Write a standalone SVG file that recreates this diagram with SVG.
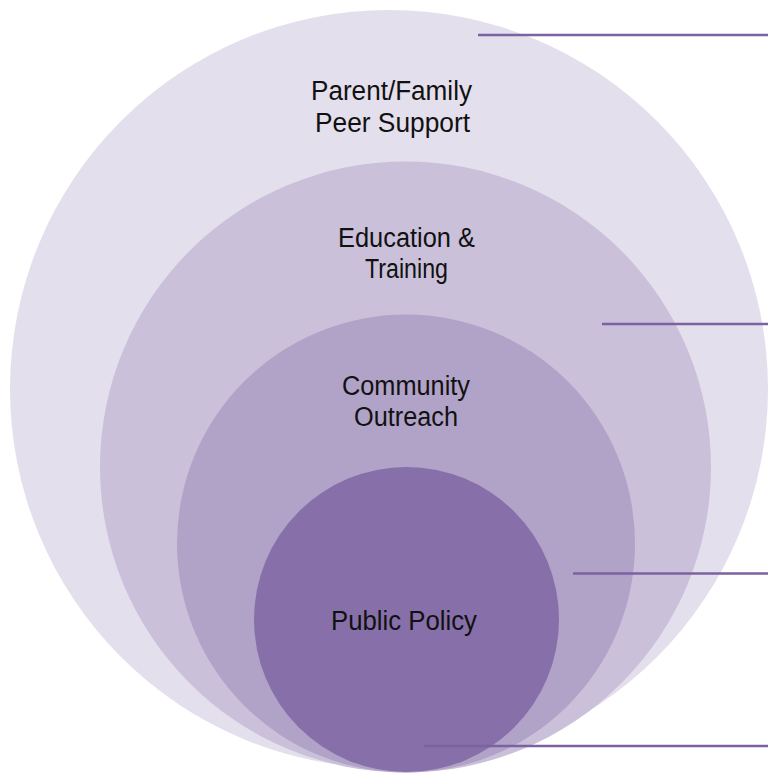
<svg xmlns="http://www.w3.org/2000/svg" width="768" height="774" viewBox="0 0 768 774">
<style>
.lbl{font-family:"Liberation Sans",Arial,sans-serif;font-size:27px;fill:#111;text-anchor:middle}
.ln{stroke:#7D62A2;stroke-width:2.5;fill:none}
</style>
<rect width="768" height="774" fill="#fff"/>
<g id="ring-parent">
<circle cx="389" cy="389" r="379" fill="#E4DFEC"/>
</g>
<g id="ring-education">
<circle cx="405.5" cy="467" r="305.5" fill="#CAC0DA"/>
</g>
<g id="ring-community">
<circle cx="406" cy="543.5" r="229" fill="#B1A2C8"/>
</g>
<g id="ring-policy">
<circle cx="406.5" cy="619.5" r="152.5" fill="#876FA9"/>
</g>
<g id="connectors">
<line class="ln" x1="478" y1="35" x2="768" y2="35"/>
<line class="ln" x1="602" y1="324" x2="768" y2="324"/>
<line class="ln" x1="573" y1="573.5" x2="768" y2="573.5"/>
<line class="ln" x1="424" y1="746" x2="768" y2="746"/>
</g>
<g id="labels">
<text class="lbl" x="391.5" y="100" textLength="161" lengthAdjust="spacingAndGlyphs">Parent/Family</text>
<text class="lbl" x="392.5" y="131.5" textLength="155" lengthAdjust="spacingAndGlyphs">Peer Support</text>
<text class="lbl" x="406.5" y="247" textLength="137" lengthAdjust="spacingAndGlyphs">Education &amp;</text>
<text class="lbl" x="406.5" y="278" textLength="83" lengthAdjust="spacingAndGlyphs">Training</text>
<text class="lbl" x="406" y="395" textLength="128" lengthAdjust="spacingAndGlyphs">Community</text>
<text class="lbl" x="406" y="426" textLength="104" lengthAdjust="spacingAndGlyphs">Outreach</text>
<text class="lbl" x="404" y="630" textLength="146" lengthAdjust="spacingAndGlyphs">Public Policy</text>
</g>
</svg>
